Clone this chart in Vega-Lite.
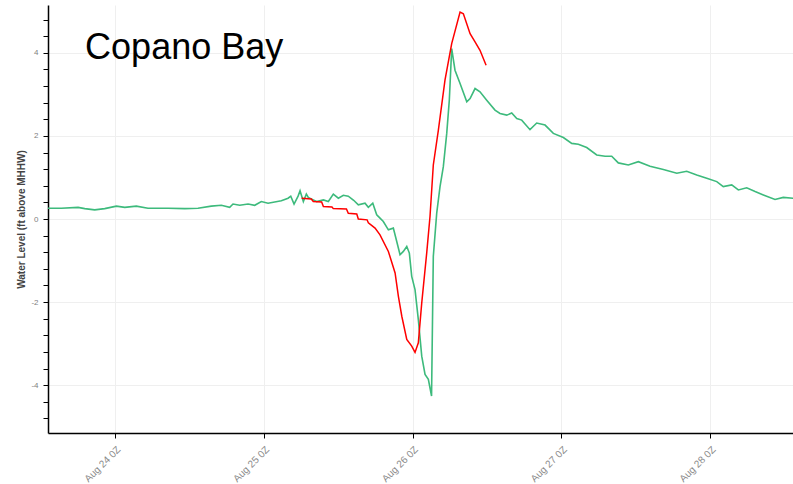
{
  "$schema": "https://vega.github.io/schema/vega-lite/v6.json",
  "width": 745,
  "height": 428,
  "autosize": "none",
  "padding": {"left": 48, "top": 5, "right": 0, "bottom": 51},
  "background": "white",
  "config": {"view": {"stroke": null}, "font": "Liberation Sans"},
  "datasets": {
    "observed": [
      {"t": "2017-08-23T13:11:00Z", "v": 0.26},
      {"t": "2017-08-23T15:20:00Z", "v": 0.26},
      {"t": "2017-08-23T18:02:00Z", "v": 0.28},
      {"t": "2017-08-23T19:07:00Z", "v": 0.25},
      {"t": "2017-08-23T20:43:00Z", "v": 0.22},
      {"t": "2017-08-23T22:20:00Z", "v": 0.25},
      {"t": "2017-08-24T00:13:00Z", "v": 0.31},
      {"t": "2017-08-24T01:34:00Z", "v": 0.28},
      {"t": "2017-08-24T03:26:00Z", "v": 0.31},
      {"t": "2017-08-24T05:19:00Z", "v": 0.26},
      {"t": "2017-08-24T08:33:00Z", "v": 0.26},
      {"t": "2017-08-24T11:15:00Z", "v": 0.25},
      {"t": "2017-08-24T13:23:00Z", "v": 0.26},
      {"t": "2017-08-24T15:32:00Z", "v": 0.31},
      {"t": "2017-08-24T17:09:00Z", "v": 0.33},
      {"t": "2017-08-24T18:30:00Z", "v": 0.28},
      {"t": "2017-08-24T19:02:00Z", "v": 0.36},
      {"t": "2017-08-24T20:07:00Z", "v": 0.33},
      {"t": "2017-08-24T21:28:00Z", "v": 0.36},
      {"t": "2017-08-24T22:32:00Z", "v": 0.33},
      {"t": "2017-08-24T23:36:00Z", "v": 0.42},
      {"t": "2017-08-25T00:41:00Z", "v": 0.38},
      {"t": "2017-08-25T02:50:00Z", "v": 0.44},
      {"t": "2017-08-25T03:55:00Z", "v": 0.50},
      {"t": "2017-08-25T04:21:00Z", "v": 0.55},
      {"t": "2017-08-25T04:53:00Z", "v": 0.36},
      {"t": "2017-08-25T05:32:00Z", "v": 0.55},
      {"t": "2017-08-25T05:51:00Z", "v": 0.68},
      {"t": "2017-08-25T06:23:00Z", "v": 0.42},
      {"t": "2017-08-25T06:52:00Z", "v": 0.60},
      {"t": "2017-08-25T07:11:00Z", "v": 0.52},
      {"t": "2017-08-25T07:59:00Z", "v": 0.46},
      {"t": "2017-08-25T08:32:00Z", "v": 0.42},
      {"t": "2017-08-25T09:37:00Z", "v": 0.46},
      {"t": "2017-08-25T10:25:00Z", "v": 0.42},
      {"t": "2017-08-25T11:13:00Z", "v": 0.60},
      {"t": "2017-08-25T12:02:00Z", "v": 0.50},
      {"t": "2017-08-25T12:50:00Z", "v": 0.57},
      {"t": "2017-08-25T13:38:00Z", "v": 0.55},
      {"t": "2017-08-25T14:30:00Z", "v": 0.45},
      {"t": "2017-08-25T15:15:00Z", "v": 0.34},
      {"t": "2017-08-25T16:20:00Z", "v": 0.38},
      {"t": "2017-08-25T16:52:00Z", "v": 0.28},
      {"t": "2017-08-25T17:35:00Z", "v": 0.38},
      {"t": "2017-08-25T18:13:00Z", "v": 0.10},
      {"t": "2017-08-25T18:45:00Z", "v": 0.02},
      {"t": "2017-08-25T19:17:00Z", "v": -0.06},
      {"t": "2017-08-25T20:06:00Z", "v": -0.26},
      {"t": "2017-08-25T20:54:00Z", "v": -0.22},
      {"t": "2017-08-25T21:27:00Z", "v": -0.54},
      {"t": "2017-08-25T21:59:00Z", "v": -0.86},
      {"t": "2017-08-25T22:31:00Z", "v": -0.78},
      {"t": "2017-08-25T23:04:00Z", "v": -0.66},
      {"t": "2017-08-25T23:29:00Z", "v": -0.82},
      {"t": "2017-08-25T23:52:00Z", "v": -1.38},
      {"t": "2017-08-26T00:24:00Z", "v": -1.70},
      {"t": "2017-08-26T00:56:00Z", "v": -2.42},
      {"t": "2017-08-26T01:29:00Z", "v": -3.30},
      {"t": "2017-08-26T02:01:00Z", "v": -3.74},
      {"t": "2017-08-26T02:33:00Z", "v": -3.86},
      {"t": "2017-08-26T03:04:00Z", "v": -4.26},
      {"t": "2017-08-26T03:21:00Z", "v": -0.90},
      {"t": "2017-08-26T03:54:00Z", "v": 0.14},
      {"t": "2017-08-26T04:26:00Z", "v": 0.78},
      {"t": "2017-08-26T04:58:00Z", "v": 1.26},
      {"t": "2017-08-26T05:31:00Z", "v": 2.06},
      {"t": "2017-08-26T05:56:00Z", "v": 2.86},
      {"t": "2017-08-26T06:19:00Z", "v": 4.10},
      {"t": "2017-08-26T06:51:00Z", "v": 3.58},
      {"t": "2017-08-26T07:40:00Z", "v": 3.26},
      {"t": "2017-08-26T08:45:00Z", "v": 2.82},
      {"t": "2017-08-26T09:17:00Z", "v": 2.90},
      {"t": "2017-08-26T10:05:00Z", "v": 3.14},
      {"t": "2017-08-26T10:53:00Z", "v": 3.06},
      {"t": "2017-08-26T11:58:00Z", "v": 2.86},
      {"t": "2017-08-26T13:18:00Z", "v": 2.62},
      {"t": "2017-08-26T14:07:00Z", "v": 2.54},
      {"t": "2017-08-26T15:12:00Z", "v": 2.50},
      {"t": "2017-08-26T16:00:00Z", "v": 2.55},
      {"t": "2017-08-26T16:49:00Z", "v": 2.42},
      {"t": "2017-08-26T17:37:00Z", "v": 2.38},
      {"t": "2017-08-26T18:57:00Z", "v": 2.15},
      {"t": "2017-08-26T20:02:00Z", "v": 2.31},
      {"t": "2017-08-26T21:23:00Z", "v": 2.26},
      {"t": "2017-08-26T22:43:00Z", "v": 2.06},
      {"t": "2017-08-27T00:20:00Z", "v": 1.96},
      {"t": "2017-08-27T01:41:00Z", "v": 1.82},
      {"t": "2017-08-27T02:45:00Z", "v": 1.80},
      {"t": "2017-08-27T04:06:00Z", "v": 1.72},
      {"t": "2017-08-27T05:43:00Z", "v": 1.54},
      {"t": "2017-08-27T07:04:00Z", "v": 1.51},
      {"t": "2017-08-27T08:08:00Z", "v": 1.51},
      {"t": "2017-08-27T09:12:00Z", "v": 1.35},
      {"t": "2017-08-27T10:49:00Z", "v": 1.30},
      {"t": "2017-08-27T12:26:00Z", "v": 1.38},
      {"t": "2017-08-27T14:19:00Z", "v": 1.27},
      {"t": "2017-08-27T16:28:00Z", "v": 1.19},
      {"t": "2017-08-27T18:38:00Z", "v": 1.10},
      {"t": "2017-08-27T20:14:00Z", "v": 1.15},
      {"t": "2017-08-27T21:51:00Z", "v": 1.06},
      {"t": "2017-08-27T23:28:00Z", "v": 0.98},
      {"t": "2017-08-28T01:05:00Z", "v": 0.90},
      {"t": "2017-08-28T02:08:00Z", "v": 0.78},
      {"t": "2017-08-28T03:30:00Z", "v": 0.82},
      {"t": "2017-08-28T04:34:00Z", "v": 0.70},
      {"t": "2017-08-28T05:55:00Z", "v": 0.75},
      {"t": "2017-08-28T07:16:00Z", "v": 0.66},
      {"t": "2017-08-28T08:36:00Z", "v": 0.58},
      {"t": "2017-08-28T10:29:00Z", "v": 0.47},
      {"t": "2017-08-28T11:49:00Z", "v": 0.52},
      {"t": "2017-08-28T13:23:00Z", "v": 0.50},
      {"t": "2017-08-28T14:30:00Z", "v": 0.49}
    ],
    "forecast": [
      {"t": "2017-08-25T06:07:00Z", "v": 0.50},
      {"t": "2017-08-25T07:40:00Z", "v": 0.48},
      {"t": "2017-08-25T07:59:00Z", "v": 0.42},
      {"t": "2017-08-25T09:20:00Z", "v": 0.41},
      {"t": "2017-08-25T09:37:00Z", "v": 0.30},
      {"t": "2017-08-25T11:00:00Z", "v": 0.29},
      {"t": "2017-08-25T11:13:00Z", "v": 0.25},
      {"t": "2017-08-25T13:20:00Z", "v": 0.24},
      {"t": "2017-08-25T13:38:00Z", "v": 0.14},
      {"t": "2017-08-25T15:00:00Z", "v": 0.12},
      {"t": "2017-08-25T15:15:00Z", "v": 0.00},
      {"t": "2017-08-25T16:40:00Z", "v": -0.02},
      {"t": "2017-08-25T16:52:00Z", "v": -0.09},
      {"t": "2017-08-25T17:57:00Z", "v": -0.22},
      {"t": "2017-08-25T18:45:00Z", "v": -0.38},
      {"t": "2017-08-25T20:06:00Z", "v": -0.78},
      {"t": "2017-08-25T21:11:00Z", "v": -1.30},
      {"t": "2017-08-25T21:43:00Z", "v": -1.86},
      {"t": "2017-08-25T22:16:00Z", "v": -2.34},
      {"t": "2017-08-25T23:04:00Z", "v": -2.90},
      {"t": "2017-08-25T23:52:00Z", "v": -3.06},
      {"t": "2017-08-26T00:24:00Z", "v": -3.21},
      {"t": "2017-08-26T00:56:00Z", "v": -2.98},
      {"t": "2017-08-26T01:29:00Z", "v": -2.02},
      {"t": "2017-08-26T02:17:00Z", "v": -0.82},
      {"t": "2017-08-26T02:49:00Z", "v": 0.06},
      {"t": "2017-08-26T03:21:00Z", "v": 1.30},
      {"t": "2017-08-26T04:10:00Z", "v": 2.14},
      {"t": "2017-08-26T05:14:00Z", "v": 3.34},
      {"t": "2017-08-26T06:19:00Z", "v": 4.22},
      {"t": "2017-08-26T07:40:00Z", "v": 4.98},
      {"t": "2017-08-26T08:12:00Z", "v": 4.94},
      {"t": "2017-08-26T09:17:00Z", "v": 4.46},
      {"t": "2017-08-26T10:05:00Z", "v": 4.26},
      {"t": "2017-08-26T10:53:00Z", "v": 4.06},
      {"t": "2017-08-26T11:52:00Z", "v": 3.70}
    ],
    "label": [
      {"t": "2017-08-23T19:10:00Z", "v": 3.86, "text": "Copano Bay"}
    ]
  },
  "layer": [
    {
      "data": {"name": "observed"},
      "mark": {"type": "line", "color": "#3dba7c", "strokeWidth": 1.6, "clip": true},
      "encoding": {
        "x": {
          "field": "t", "type": "temporal",
          "scale": {"type": "utc", "domain": [
            {"year": 2017, "month": 8, "date": 23, "hours": 13, "minutes": 11, "utc": true},
            {"year": 2017, "month": 8, "date": 28, "hours": 13, "minutes": 23, "utc": true}
          ]},
          "axis": {
            "title": null,
            "values": [
              {"year": 2017, "month": 8, "date": 24, "utc": true},
              {"year": 2017, "month": 8, "date": 25, "utc": true},
              {"year": 2017, "month": 8, "date": 26, "utc": true},
              {"year": 2017, "month": 8, "date": 27, "utc": true},
              {"year": 2017, "month": 8, "date": 28, "utc": true}
            ],
            "tickCount": 10,
            "labelOverlap": false,
            "labelExpr": "utcFormat(datum.value, '%b %d') + ' 0Z'",
            "labelAngle": -45,
            "labelFontSize": 10,
            "labelColor": "#8a8a8a",
            "labelPadding": 6,
            "tickColor": "#000000",
            "tickSize": 5,
            "domainColor": "#000000",
            "domainWidth": 1.5,
            "gridColor": "#efefef"
          }
        },
        "y": {
          "field": "v", "type": "quantitative",
          "scale": {"domain": [-5.15, 5.15], "nice": false, "zero": false},
          "axis": {
            "title": "Water Level (ft above MHHW)",
            "titleFontSize": 10,
            "titleFontWeight": "bold",
            "titleColor": "#444444",
            "titlePadding": 4,
            "values": [-4.8, -4.4, -4, -3.6, -3.2, -2.8, -2.4, -2, -1.6, -1.2, -0.8, -0.4, 0, 0.4, 0.8, 1.2, 1.6, 2, 2.4, 2.8, 3.2, 3.6, 4, 4.4, 4.8],
            "tickCount": 40,
            "labelOverlap": false,
            "labelExpr": "datum.value % 2 == 0 ? '' + datum.value : ''",
            "labelFontSize": 8,
            "labelColor": "#808080",
            "labelPadding": 5,
            "tickColor": "#000000",
            "tickSize": 5,
            "domainColor": "#000000",
            "domainWidth": 1.5,
            "gridColor": "#efefef",
            "gridOpacity": {"condition": {"test": "datum.value % 2 == 0", "value": 1}, "value": 0}
          }
        }
      }
    },
    {
      "data": {"name": "forecast"},
      "mark": {"type": "line", "color": "#ff0000", "strokeWidth": 1.5, "clip": true},
      "encoding": {
        "x": {"field": "t", "type": "temporal"},
        "y": {"field": "v", "type": "quantitative"}
      }
    },
    {
      "data": {"name": "label"},
      "mark": {"type": "text", "font": "Liberation Sans", "fontSize": 36, "color": "#000000", "align": "left", "baseline": "alphabetic"},
      "encoding": {
        "x": {"field": "t", "type": "temporal"},
        "y": {"field": "v", "type": "quantitative"},
        "text": {"field": "text"}
      }
    }
  ]
}
